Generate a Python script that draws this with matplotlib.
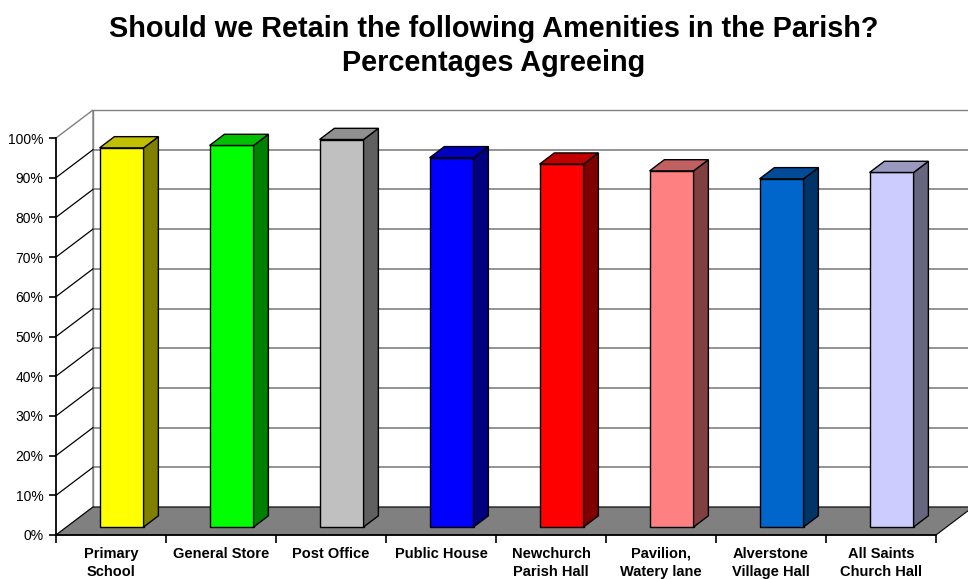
import matplotlib
matplotlib.use("Agg")
import matplotlib.pyplot as plt
from matplotlib.patches import Polygon
from matplotlib.transforms import IdentityTransform

plt.rcParams['font.family'] = ['Liberation Sans', 'DejaVu Sans']

amenities = ["Primary\nSchool", "General Store", "Post Office", "Public House",
             "Newchurch\nParish Hall", "Pavilion,\nWatery lane",
             "Alverstone\nVillage Hall", "All Saints\nChurch Hall"]
agree_pct = [95.5, 96.1, 97.6, 93.0, 91.4, 89.7, 87.7, 89.3]

front_cols = ["#FFFF00", "#00FF00", "#C0C0C0", "#0000FF",
              "#FF0000", "#FF8080", "#0066CC", "#CCCCFF"]
side_cols = ["#808000", "#008000", "#606060", "#000080",
             "#800000", "#804040", "#003366", "#666680"]
top_cols = ["#C0C000", "#00C000", "#909090", "#0000C0",
            "#C00000", "#C06060", "#004C99", "#9999C0"]

y_ticks = list(range(0, 101, 10))

W, H = 968, 579
fig = plt.figure(figsize=(W / 100, H / 100), dpi=100)
ax = fig.add_axes([56 / W, 44 / H, 880 / W, 397 / H])
ax.set_xlim(0, len(amenities))
ax.set_ylim(0, 100)
ax.patch.set_visible(False)

# oblique depth offset of the back wall, in pixels
DX, DY = 37, 28


def proj(x, y, z):
    px, py = ax.transData.transform((x, y))
    return (px + DX * z, py + DY * z)


def face(pts, fc, ec="black", lw=1.0, zorder=2):
    ax.add_patch(Polygon(pts, closed=True, facecolor=fc, edgecolor=ec,
                         linewidth=lw, transform=IdentityTransform(),
                         clip_on=False, zorder=zorder))


def seg(p, q, color, lw=1.0, zorder=1):
    ax.add_line(plt.Line2D([p[0], q[0]], [p[1], q[1]], color=color,
                           linewidth=lw, transform=IdentityTransform(),
                           clip_on=False, zorder=zorder))


n = len(amenities)

# back wall and left wall
face([proj(0, 0, 1), proj(n, 0, 1), proj(n, 100, 1), proj(0, 100, 1)],
     "white", ec="#808080", zorder=0)
face([proj(0, 0, 0), proj(0, 0, 1), proj(0, 100, 1), proj(0, 100, 0)],
     "white", ec="#808080", zorder=0)
for v in y_ticks[1:-1]:
    seg(proj(0, v, 1), proj(n, v, 1), "#808080", lw=1.2)
    seg(proj(0, v, 0), proj(0, v, 1), "black", lw=0.9)

# floor
face([proj(0, 0, 0), proj(n, 0, 0), proj(n, 0, 1), proj(0, 0, 1)],
     "#808080", ec="black", lw=0.8, zorder=1)

# bars
z0, z1 = 0.286, 0.686
for i, v in enumerate(agree_pct):
    x0, x1 = i + 0.3, i + 0.7
    face([proj(x0, 0, z0), proj(x1, 0, z0), proj(x1, v, z0), proj(x0, v, z0)],
         front_cols[i], zorder=3)
    face([proj(x1, 0, z0), proj(x1, 0, z1), proj(x1, v, z1), proj(x1, v, z0)],
         side_cols[i], zorder=3)
    face([proj(x0, v, z0), proj(x1, v, z0), proj(x1, v, z1), proj(x0, v, z1)],
         top_cols[i], zorder=3)

# axes
for s in ["top", "right"]:
    ax.spines[s].set_visible(False)
for s in ["left", "bottom"]:
    ax.spines[s].set_color("black")
    ax.spines[s].set_linewidth(1.2)
    ax.spines[s].set_zorder(4)

ax.set_yticks(y_ticks)
ax.set_yticklabels([f"{v}%" for v in y_ticks], fontsize=10)
ax.tick_params(axis="y", direction="out", length=5, width=1.2, pad=4)

ax.set_xticks(range(n + 1))
ax.set_xticklabels([])
ax.set_xticks([i + 0.5 for i in range(n)], minor=True)
ax.set_xticklabels(amenities, minor=True, fontsize=10.5, fontweight="bold",
                   linespacing=1.35)
ax.tick_params(axis="x", which="major", direction="out", length=6, width=1.2)
ax.tick_params(axis="x", which="minor", length=0, pad=8.5)

fig.text(494 / W, 1 - 46 / H,
         "Should we Retain the following Amenities in the Parish?\nPercentages Agreeing",
         ha="center", va="center", fontsize=20.8, fontweight="bold",
         linespacing=1.3)

fig.savefig("out.png", dpi=100)
